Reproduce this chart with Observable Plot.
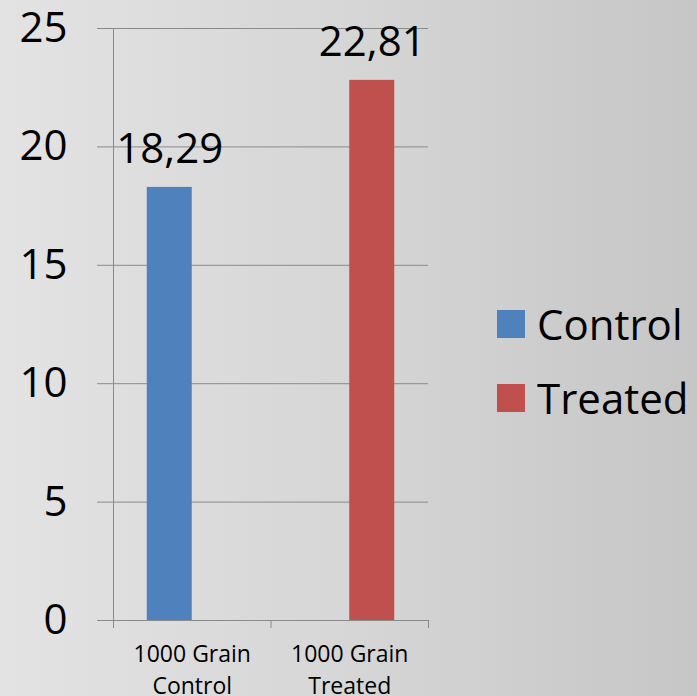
<!DOCTYPE html>
<html>
<head>
<meta charset="utf-8">
<script src="https://cdn.jsdelivr.net/npm/d3@7"></script>
<script src="https://cdn.jsdelivr.net/npm/@observablehq/plot@0.6"></script>
<style>
  html, body { margin: 0; padding: 0; }
  body {
    width: 697px; height: 696px; overflow: hidden;
    background: linear-gradient(to right, #e3e3e3 0%, #d6d6d6 50%, #c6c6c6 100%);
    font-family: "Open Sans", sans-serif;
  }
  #wrap { position: relative; width: 697px; height: 696px; }
  #legend { position: absolute; left: 497px; top: 287px; }
  .row { display: flex; align-items: center; height: 74px; }
  .sw { width: 28px; height: 28px; margin-right: 12px; }
  .lab { font-size: 42px; color: #000; line-height: 1; }
</style>
</head>
<body>
<div id="wrap"><div id="legend"></div></div>
<script>
// Data
const categories = ["1000 Grain\nControl", "1000 Grain\nTreated"];
const series = ["Control", "Treated"];
const controlValues = [18.29, null];
const treatedValues = [null, 22.81];
const seriesColors = ["#4F81BD", "#C0504D"];
const yTicks = [0, 5, 10, 15, 20, 25];

// Build rows: grouped bars with Excel-like gap width (150%)
const gapWidth = 1.5;
const bw = 1 / (series.length + gapWidth);
const seriesValues = [controlValues, treatedValues];
const rows = [];
categories.forEach((cat, i) => {
  series.forEach((s, j) => {
    const v = seriesValues[j][i];
    if (v == null) return;
    const x1 = i + 0.5 - (series.length * bw) / 2 + j * bw;
    rows.push({cat, series: s, value: v, x1, x2: x1 + bw, xc: x1 + bw / 2});
  });
});
const catRows = categories.map((c, i) => ({cat: c, xc: i + 0.5}));
const edges = d3.range(categories.length + 1);
const gridColor = "#8a8a8a";

const chart = Plot.plot({
  width: 697,
  height: 696,
  marginLeft: 113,
  marginRight: 269,
  marginTop: 28,
  marginBottom: 76,
  style: {background: "transparent", fontFamily: "Open Sans, sans-serif", overflow: "visible"},
  x: {domain: [0, categories.length], axis: null},
  y: {domain: [0, 25], axis: null},
  color: {domain: series, range: seriesColors},
  marks: [
    Plot.ruleY(yTicks, {stroke: gridColor, strokeWidth: 1}),
    Plot.axisY({ticks: yTicks, tickSize: 16, tickPadding: 30, fontSize: 42, stroke: gridColor, color: "#000", label: null}),
    Plot.ruleX([0], {y1: 25, y2: 0, stroke: gridColor, insetBottom: -8}),
    Plot.ruleX(edges, {y1: 0, y2: 0, stroke: gridColor, insetBottom: -8}),
    Plot.rectY(rows, {x1: "x1", x2: "x2", y1: 0, y2: "value", fill: "series"}),
    Plot.text(rows, {x: "xc", y: "value", text: d => d.value.toFixed(2).replace(".", ","), lineAnchor: "bottom", dy: -24, fontSize: 42, fill: "#000"}),
    Plot.text(catRows, {x: "xc", text: "cat", frameAnchor: "bottom", lineAnchor: "top", dy: 19, fontSize: 23, lineHeight: 1.39, fill: "#000"})
  ]
});
document.getElementById("wrap").prepend(chart);

const legend = document.getElementById("legend");
series.forEach((s, i) => {
  const row = document.createElement("div");
  row.className = "row";
  row.innerHTML = `<div class="sw" style="background:${seriesColors[i]}"></div><div class="lab">${s}</div>`;
  legend.appendChild(row);
});
</script>
</body>
</html>
